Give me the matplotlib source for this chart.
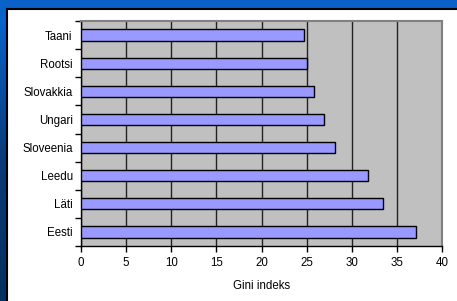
import matplotlib
matplotlib.use("Agg")
import matplotlib.pyplot as plt
import numpy as np
from matplotlib.patches import Rectangle
from matplotlib.colors import LinearSegmentedColormap

countries = ["Eesti", "Läti", "Leedu", "Sloveenia", "Ungari", "Slovakkia", "Rootsi", "Taani"]
gini = [37.1, 33.5, 31.8, 28.1, 26.9, 25.8, 25.0, 24.7]
xticks = [0, 5, 10, 15, 20, 25, 30, 35, 40]
xlabel = "Gini indeks"

plt.rcParams['font.family'] = ['Liberation Sans', 'DejaVu Sans']
W, H = 457, 301
fig = plt.figure(figsize=(W / 100, H / 100), dpi=100)
fig.patch.set_facecolor("#0A62C8")

# background: blue with darker gradient on left strip
bg = fig.add_axes([0, 0, 1, 1])
bg.set_xlim(0, W); bg.set_ylim(H, 0); bg.axis("off")
grad = np.linspace(0, 1, 100).reshape(-1, 1)
cmap = LinearSegmentedColormap.from_list("b", ["#0A62C8", "#0A3A78", "#06305F"])
bg.imshow(grad, extent=[0, 8, H, 20], aspect="auto", cmap=cmap, zorder=0)
bg.add_patch(Rectangle((7, 9), W, H, facecolor="white", edgecolor="none", zorder=1))
bg.plot([7, 7], [9, H], color="black", lw=1.5, zorder=2)
bg.plot([7, W], [9, 9], color="black", lw=1.5, zorder=2)

l, r, t, b = 81, 442, 21, 246
ax = fig.add_axes([l / W, 1 - b / H, (r - l) / W, (b - t) / H])
ax.set_facecolor("#C0C0C0")
y = np.arange(len(countries))
ax.barh(y, gini, height=0.4, color="#9999FF", edgecolor="black", linewidth=1, zorder=3)
ax.set_xlim(0, 40)
ax.set_ylim(-0.5, len(countries) - 0.5)
ax.set_xticks(xticks)
ax.set_xticklabels([str(v) for v in xticks], fontsize=8.3)
ax.set_yticks(y)
ax.set_yticklabels(countries, fontsize=8.3)
ax.set_yticks(np.arange(-0.5, len(countries), 1), minor=True)
ax.tick_params(axis="y", which="major", length=0, pad=6)
ax.tick_params(axis="y", which="minor", length=4, width=1, direction="out")
ax.tick_params(axis="x", length=4, width=1, direction="out", pad=4)
ax.grid(axis="x", color="#222222", linewidth=1, zorder=1)
ax.set_axisbelow(True)
for s in ["top", "right"]:
    ax.spines[s].set_color("#808080")
    ax.spines[s].set_linewidth(1.5)
for s in ["left", "bottom"]:
    ax.spines[s].set_color("black")
    ax.spines[s].set_linewidth(1)
ax.set_xlabel(xlabel, fontsize=8.3, labelpad=8)

fig.savefig("out.png", dpi=100, facecolor=fig.get_facecolor())
